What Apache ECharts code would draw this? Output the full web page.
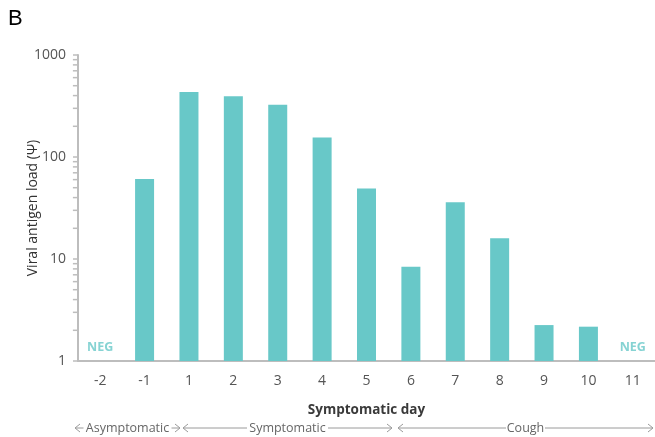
<!DOCTYPE html>
<html><head><meta charset="utf-8">
<script src="https://cdn.jsdelivr.net/npm/echarts@6/dist/echarts.min.js"></script>
<style>html,body{margin:0;padding:0;background:#fff}#c{width:655px;height:437px}</style>
</head><body><div id="c"></div>
<script>
const days = ['-2','-1','1','2','3','4','5','6','7','8','9','10','11'];
const load = [null, 61, 434, 394, 326, 155, 49, 8.4, 36, 16, 2.25, 2.17, null];
const negLabels = [1.37, null, null, null, null, null, null, null, null, null, null, null, 1.37];
const yTicks = [1, 10, 100, 1000];
const phases = [
  {name: 'Asymptomatic', from: 75, to: 180},
  {name: 'Symptomatic', from: 183, to: 392},
  {name: 'Cough', from: 398, to: 653}
];

const chart = echarts.init(document.getElementById('c'));
const font = '"Open Sans", "Noto Sans", sans-serif';
chart.setOption({
  animation: false,
  grid: {left: 78, top: 55, width: 580, height: 306, containLabel: false},
  xAxis: {
    type: 'category', data: days,
    axisLine: {lineStyle: {color: '#bdbdbd', width: 2}},
    axisTick: {show: false},
    axisLabel: {color: '#555', fontSize: 14, fontFamily: font, margin: 13},
    name: 'Symptomatic day', nameLocation: 'middle', nameGap: 42,
    nameTextStyle: {color: '#3a3a3a', fontSize: 13.5, fontWeight: 'bold', fontFamily: font}
  },
  yAxis: {
    type: 'log', logBase: 10, min: 1, max: 1000,
    axisLine: {show: true, lineStyle: {color: '#bdbdbd', width: 2}},
    axisTick: {show: true, length: 5, lineStyle: {color: '#bdbdbd', width: 1.5}},
    splitLine: {show: false},
    axisLabel: {color: '#555', fontSize: 14, fontFamily: font, margin: 12,
                formatter: v => String(Math.round(v))},
    name: 'Viral antigen load (Ψ)', nameLocation: 'middle', nameGap: 38,
    nameMoveOverlap: false,
    nameTextStyle: {color: '#333', fontSize: 14, fontFamily: font}
  },
  series: [
    {type: 'bar', data: load, barWidth: 19, itemStyle: {color: '#68c8c8'}},
    {type: 'scatter', data: negLabels, symbolSize: 0,
     label: {show: true, position: 'inside', formatter: 'NEG', color: '#68c8c8',
             fontWeight: 'bold', fontSize: 12.5, fontFamily: font}}
  ]
});

const els = [];
els.push({type: 'text', left: 8, top: 8, style: {text: 'B', fontSize: 22, fill: '#000', fontFamily: 'Liberation Sans, Arial, sans-serif'}});
const x0 = chart.convertToPixel({xAxisIndex: 0}, '-2') - 580 / 13 / 2;
for (let d = 1; d < 1000; d *= 10) {
  for (let k = 2; k <= 9; k++) {
    const y = chart.convertToPixel({yAxisIndex: 0}, d * k);
    els.push({type: 'line', shape: {x1: x0 - 5, y1: y, x2: x0, y2: y}, style: {stroke: '#bdbdbd', lineWidth: 1.5}});
  }
}
const ay = 428;
const arrowCol = '#9a9a9a';
phases.forEach(p => {
  const mid = (p.from + p.to) / 2;
  const tw = p.name.length * 7 + 4;
  els.push({type: 'line', shape: {x1: p.from, y1: ay, x2: mid - tw / 2, y2: ay}, style: {stroke: arrowCol, lineWidth: 1}});
  els.push({type: 'line', shape: {x1: mid + tw / 2, y1: ay, x2: p.to, y2: ay}, style: {stroke: arrowCol, lineWidth: 1}});
  els.push({type: 'polyline', shape: {points: [[p.from + 5, ay - 4], [p.from, ay], [p.from + 5, ay + 4]]}, style: {stroke: arrowCol, lineWidth: 1, fill: null}});
  els.push({type: 'polyline', shape: {points: [[p.to - 5, ay - 4], [p.to, ay], [p.to - 5, ay + 4]]}, style: {stroke: arrowCol, lineWidth: 1, fill: null}});
  els.push({type: 'text', x: mid, y: ay, style: {text: p.name, fontSize: 12.5, fill: '#666', fontFamily: font, align: 'center', verticalAlign: 'middle'}});
});
chart.setOption({graphic: els});
</script></body></html>
